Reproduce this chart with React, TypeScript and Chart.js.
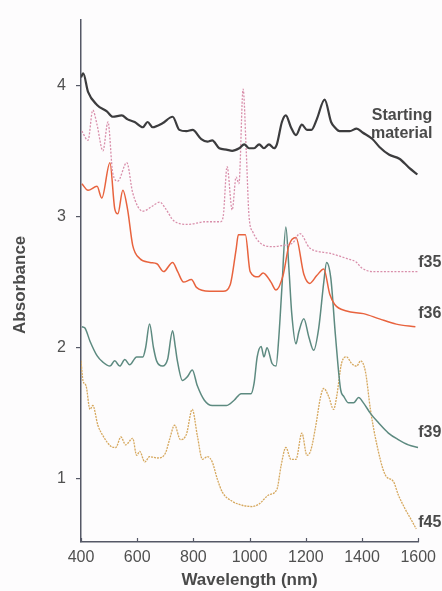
import React, { useEffect, useRef } from "react";
import { Chart, registerables } from "chart.js";
Chart.register(...registerables);

// Axis ticks
const xTickValues = [400, 600, 800, 1000, 1200, 1400, 1600];
const yTickValues = [1, 2, 3, 4];

// Starting material
const smWl = [400, 408, 425, 457, 492, 513, 545, 566, 591, 620, 637, 655, 690, 726, 750, 775, 797, 828, 850, 867, 892, 917, 938, 963, 981, 998, 1016, 1034, 1051, 1069, 1087, 1097, 1115, 1129, 1147, 1165, 1186, 1204, 1220, 1239, 1267, 1290, 1303, 1320, 1356, 1381, 1402, 1437, 1462, 1497, 1533, 1568, 1597];
const smAbs = [4.06, 4.09, 3.95, 3.85, 3.80, 3.76, 3.77, 3.74, 3.72, 3.68, 3.72, 3.68, 3.71, 3.76, 3.66, 3.65, 3.66, 3.59, 3.57, 3.58, 3.52, 3.51, 3.50, 3.52, 3.55, 3.52, 3.52, 3.55, 3.52, 3.55, 3.52, 3.55, 3.72, 3.77, 3.68, 3.62, 3.70, 3.66, 3.66, 3.74, 3.89, 3.72, 3.68, 3.65, 3.65, 3.67, 3.64, 3.59, 3.53, 3.47, 3.44, 3.37, 3.32];

// f35
const f35Wl = [403, 425, 442, 457, 478, 496, 513, 531, 563, 584, 620, 655, 680, 701, 729, 779, 846, 896, 906, 920, 938, 952, 962, 977, 988, 998, 1012, 1037, 1083, 1119, 1154, 1179, 1214, 1285, 1345, 1381, 1398, 1437, 1600];
const f35Abs = [3.65, 3.58, 3.81, 3.70, 3.50, 3.72, 3.33, 3.27, 3.41, 3.18, 3.04, 3.08, 3.11, 3.06, 2.97, 2.94, 2.96, 2.96, 3.00, 3.38, 3.05, 3.30, 3.25, 3.97, 3.50, 3.00, 2.88, 2.80, 2.77, 2.78, 2.80, 2.87, 2.76, 2.72, 2.68, 2.65, 2.61, 2.58, 2.58];

// f36
const f36Wl = [403, 425, 457, 474, 503, 520, 531, 549, 566, 584, 609, 645, 670, 694, 726, 744, 765, 793, 811, 857, 906, 931, 952, 960, 985, 1002, 1030, 1048, 1076, 1094, 1119, 1140, 1165, 1193, 1214, 1239, 1264, 1285, 1303, 1345, 1405, 1462, 1522, 1590];
const f36Abs = [3.25, 3.20, 3.23, 3.14, 3.41, 3.06, 3.02, 3.20, 3.05, 2.78, 2.68, 2.65, 2.64, 2.58, 2.65, 2.58, 2.50, 2.52, 2.46, 2.43, 2.43, 2.48, 2.75, 2.86, 2.86, 2.58, 2.54, 2.57, 2.50, 2.44, 2.55, 2.78, 2.84, 2.56, 2.49, 2.55, 2.60, 2.41, 2.33, 2.28, 2.26, 2.22, 2.18, 2.16];

// f39
const f39Wl = [403, 414, 432, 457, 478, 503, 520, 538, 556, 573, 598, 620, 630, 644, 658, 669, 690, 708, 726, 736, 743, 761, 779, 796, 814, 839, 867, 917, 945, 970, 1005, 1016, 1027, 1041, 1051, 1062, 1080, 1094, 1104, 1115, 1129, 1140, 1150, 1165, 1175, 1193, 1211, 1228, 1246, 1264, 1274, 1289, 1306, 1324, 1335, 1352, 1370, 1388, 1405, 1430, 1458, 1494, 1529, 1565, 1600];
const f39Abs = [2.16, 2.15, 2.05, 1.94, 1.89, 1.86, 1.90, 1.86, 1.91, 1.87, 1.93, 1.93, 2.00, 2.18, 2.00, 1.90, 1.86, 1.91, 2.13, 2.00, 1.90, 1.75, 1.78, 1.83, 1.71, 1.60, 1.56, 1.56, 1.60, 1.65, 1.65, 1.73, 1.93, 2.01, 1.93, 2.00, 1.88, 1.86, 2.08, 2.46, 2.92, 2.60, 2.26, 2.03, 2.12, 2.22, 2.08, 1.98, 2.15, 2.50, 2.65, 2.53, 2.08, 1.68, 1.63, 1.58, 1.58, 1.62, 1.58, 1.50, 1.43, 1.35, 1.30, 1.26, 1.24];

// f45
const f45Wl = [400, 407, 418, 432, 442, 460, 478, 506, 524, 542, 559, 584, 598, 609, 627, 644, 673, 701, 715, 733, 754, 775, 796, 814, 832, 850, 867, 885, 903, 938, 974, 1009, 1034, 1069, 1097, 1112, 1129, 1147, 1165, 1186, 1204, 1218, 1235, 1253, 1264, 1281, 1299, 1310, 1327, 1345, 1363, 1381, 1395, 1412, 1430, 1451, 1483, 1512, 1529, 1554, 1575, 1593];
const f45Abs = [1.90, 1.75, 1.71, 1.53, 1.56, 1.41, 1.33, 1.25, 1.24, 1.32, 1.26, 1.31, 1.18, 1.21, 1.13, 1.17, 1.16, 1.20, 1.30, 1.41, 1.30, 1.34, 1.53, 1.33, 1.15, 1.17, 1.13, 1.00, 0.90, 0.83, 0.80, 0.79, 0.81, 0.88, 0.92, 1.10, 1.24, 1.15, 1.15, 1.35, 1.18, 1.22, 1.40, 1.63, 1.69, 1.63, 1.53, 1.63, 1.88, 1.93, 1.88, 1.86, 1.90, 1.82, 1.53, 1.28, 1.03, 0.98, 0.88, 0.77, 0.69, 0.62];

// Series labels (text placed at the right of each curve)
const labelTexts = ["Starting", "material", "f35", "f36", "f39", "f45"];
const labelNm = [1435, 1432, 1600, 1600, 1600, 1600];
const labelAbs = [3.77, 3.635, 2.65, 2.26, 1.35, 0.67];

const pts = (wl: number[], ab: number[]) => wl.map((x, i) => ({ x, y: ab[i] }));

export default function App() {
  const ref = useRef<HTMLCanvasElement>(null);
  useEffect(() => {
    const axisColor = "#555866";
    const textColor = "#4a4a4a";
    const annot = {
      id: "annot",
      afterDraw(chart: any) {
        const { ctx, scales, chartArea } = chart;
        const xs = scales.x;
        const ys = scales.y;
        ctx.save();
        // inward x ticks
        ctx.strokeStyle = axisColor;
        ctx.lineWidth = 1.2;
        xTickValues.forEach((v) => {
          const px = Math.round(xs.getPixelForValue(v)) + 0.5;
          ctx.beginPath();
          ctx.moveTo(px, chartArea.bottom);
          ctx.lineTo(px, chartArea.bottom - 4);
          ctx.stroke();
        });
        // titles
        ctx.fillStyle = textColor;
        ctx.font = "bold 17px 'Liberation Sans', Arial, sans-serif";
        ctx.textAlign = "center";
        ctx.textBaseline = "middle";
        ctx.fillText("Wavelength (nm)", (chartArea.left + chartArea.right) / 2, 580);
        ctx.save();
        ctx.translate(20, (chartArea.top + chartArea.bottom) / 2 + 4);
        ctx.rotate(-Math.PI / 2);
        ctx.fillText("Absorbance", 0, 0);
        ctx.restore();
        // series labels
        ctx.font = "bold 16px 'Liberation Sans', Arial, sans-serif";
        ctx.textAlign = "left";
        labelTexts.forEach((t, i) => {
          const px = xs.getPixelForValue(labelNm[i]);
          const py = ys.getPixelForValue(labelAbs[i]);
          ctx.fillText(t, px, py);
        });
        ctx.restore();
      },
    };
    const common = { pointRadius: 0, fill: false, cubicInterpolationMode: "monotone" as const };
    const chart = new Chart(ref.current as HTMLCanvasElement, {
      type: "line",
      data: {
        datasets: [
          { label: "Starting material", data: pts(smWl, smAbs), borderColor: "#3c3c3e", borderWidth: 2.2, ...common },
          { label: "f35", data: pts(f35Wl, f35Abs), borderColor: "#d98fab", borderWidth: 1.3, borderDash: [2, 1.5], ...common },
          { label: "f36", data: pts(f36Wl, f36Abs), borderColor: "#e8633e", borderWidth: 1.5, ...common },
          { label: "f39", data: pts(f39Wl, f39Abs), borderColor: "#5d8a80", borderWidth: 1.5, ...common },
          { label: "f45", data: pts(f45Wl, f45Abs), borderColor: "#d6a85e", borderWidth: 1.3, borderDash: [2, 1], ...common },
        ],
      },
      options: {
        responsive: false,
        animation: false,
        devicePixelRatio: 1,
        layout: { padding: { left: 0, right: 22, top: 13, bottom: 0 } },
        plugins: { legend: { display: false }, tooltip: { enabled: false } },
        scales: {
          x: {
            type: "linear",
            min: 400,
            max: 1600,
            afterBuildTicks: (s: any) => { s.ticks = xTickValues.map((v) => ({ value: v })); },
            afterFit: (s: any) => { s.height = 49; },
            border: { display: true, color: axisColor, width: 1.5 },
            grid: { display: true, drawOnChartArea: false, drawTicks: false },
            ticks: { color: "#505050", padding: 6, maxRotation: 0, autoSkip: false, callback: (v: any) => String(v), font: { size: 16, family: "'Liberation Sans', Arial, sans-serif" } },
          },
          y: {
            type: "linear",
            min: 0.52,
            max: 4.5,
            afterBuildTicks: (s: any) => { s.ticks = yTickValues.map((v) => ({ value: v })); },
            afterFit: (s: any) => { s.width = 81; },
            border: { display: true, color: axisColor, width: 1.5 },
            grid: { display: true, drawOnChartArea: false, drawTicks: true, tickLength: 5, color: axisColor, lineWidth: 1.2 },
            ticks: { color: "#505050", padding: 10, callback: (v: any) => String(v), font: { size: 16, family: "'Liberation Sans', Arial, sans-serif" } },
          },
        },
      },
      plugins: [annot],
    });
    return () => chart.destroy();
  }, []);
  return (
    <div style={{ position: "fixed", left: 0, top: 0, width: 442, height: 591, background: "#fdfcfd" }}>
      <canvas ref={ref} width={442} height={591} style={{ display: "block" }} />
    </div>
  );
}
